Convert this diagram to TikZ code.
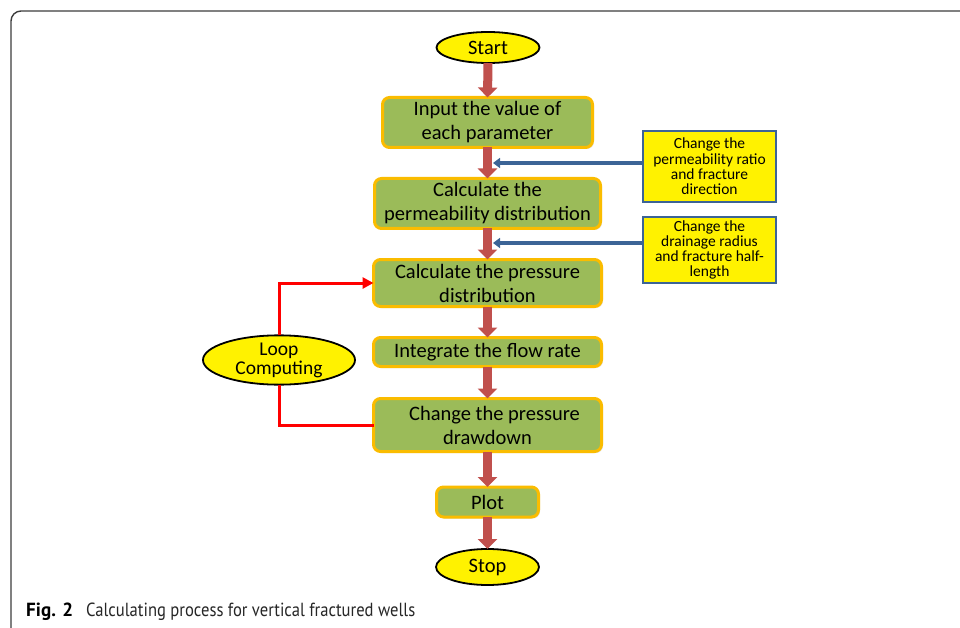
\documentclass[tikz,border=0pt]{standalone}
\usepackage{fontspec}
\usepackage{graphicx}
\setmainfont{Carlito}
\newfontfamily\capfont{PT Sans}
\usetikzlibrary{arrows.meta,shapes.geometric,shadows}
\definecolor{boxgreen}{RGB}{155,187,89}
\definecolor{boxorange}{RGB}{250,188,0}
\definecolor{flowred}{RGB}{192,80,77}
\definecolor{sideblue}{RGB}{60,100,150}
\definecolor{framegray}{RGB}{60,60,60}
\begin{document}
\begin{tikzpicture}[x=1pt,y=-1pt,
  stepbox/.style={draw=boxorange, fill=boxgreen, line width=3pt, rounded corners=7pt,
    inner sep=0pt, outer sep=0pt, align=center, font=\fontsize{20.5}{24}\selectfont,
    drop shadow={opacity=0.2, shadow xshift=1.5pt, shadow yshift=-1.5pt}},
  term/.style={draw=black, fill=yellow, ellipse, line width=1.8pt, inner sep=0pt, outer sep=0pt,
    align=center, font=\fontsize{20.5}{24}\selectfont},
  sidebox/.style={draw=sideblue, fill=yellow, line width=2.2pt, inner sep=0pt, outer sep=0pt,
    align=center, font=\fontsize{15.5}{15.3}\selectfont},
  flow/.style={draw=flowred, line width=9pt, -{Triangle[width=19pt,length=10pt]}},
  feed/.style={draw=sideblue, line width=3.5pt, -{Triangle[width=10pt,length=7pt]}},
  loopline/.style={draw=red, line width=3pt},
]
\useasboundingbox (0,0) rectangle (960,628);
\draw[framegray, line width=1.4pt, rounded corners=10pt] (11,640) -- (11,11) -- (975,11);

\node[term, minimum width=103pt, minimum height=31pt] (start) at (488,47.5) {Start};
\node[stepbox, minimum width=210pt, minimum height=50pt] (input) at (487.5,122.5) {Input the value of\\each parameter};
\node[stepbox, minimum width=226pt, minimum height=50pt] (perm) at (487.5,203.5) {Calculate the\\permeability distribution};
\node[stepbox, minimum width=228pt, minimum height=47pt] (press) at (487.5,283) {Calculate the pressure\\distribution};
\node[stepbox, minimum width=228pt, minimum height=29pt] (integ) at (487.5,352) {Integrate the flow rate};
\node[stepbox, minimum width=228pt, minimum height=53pt] (draw) at (487.5,425) {\hspace*{14pt}Change the pressure\\drawdown};
\node[stepbox, minimum width=102pt, minimum height=30pt] (plot) at (487.5,502) {Plot};
\node[term, minimum width=103pt, minimum height=36pt] (stop) at (487.5,567) {Stop};

\node[sidebox, minimum width=133pt, minimum height=71pt] (side1) at (709.5,166.5) {Change the\\permeability ratio\\and fracture\\direction};
\node[sidebox, minimum width=133pt, minimum height=66pt] (side2) at (709.5,250) {Change the\\drainage radius\\and fracture half-\\length};

\node[term, minimum width=152pt, minimum height=47pt, font=\fontsize{19.5}{19}\selectfont] (loop) at (279,360) {Loop\\Computing};

\draw[flow] (start.south) -- (input.north);
\draw[flow] (input.south) -- (perm.north);
\draw[flow] (perm.south) -- (press.north);
\draw[flow] (press.south) -- (integ.north);
\draw[flow] (integ.south) -- (draw.north);
\draw[flow] (draw.south) -- (plot.north);
\draw[flow] (plot.south) -- (stop.north);

\coordinate (tip1) at (493,163);
\coordinate (tip2) at (493,243);
\draw[feed] (side1.west |- tip1) -- (tip1);
\draw[feed] (side2.west |- tip2) -- (tip2);

\draw[loopline, -{Triangle[width=11pt,length=11pt]}] (loop.north) |- (press.west);
\draw[loopline] (loop.south) |- (draw.west);

\node[anchor=base west, inner sep=0pt, font=\capfont\fontsize{19}{22}\selectfont] (figlab) at (26,616) {\resizebox{47pt}{\height}{\bfseries Fig. 2}};
\node[anchor=base west, inner sep=0pt, font=\capfont\fontsize{19}{22}\selectfont, text=black!85] (caption) at (86,616) {\resizebox{329pt}{\height}{Calculating process for vertical fractured wells}};
\end{tikzpicture}
\end{document}
